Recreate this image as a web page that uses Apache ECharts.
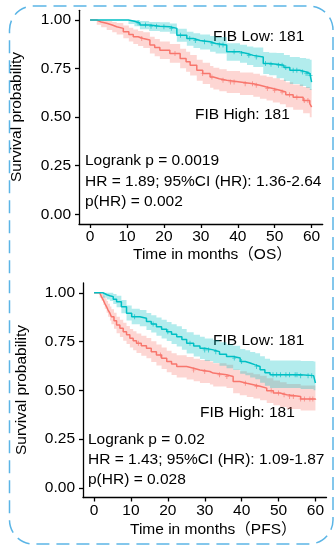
<!DOCTYPE html>
<html>
<head>
<meta charset="utf-8">
<script src="https://cdn.jsdelivr.net/npm/echarts@6/dist/echarts.min.js"></script>
<style>
  html, body { margin: 0; padding: 0; background: #fff; }
  #chart { width: 334px; height: 547px; }
</style>
</head>
<body>
<div id="chart"></div>
<script>
// ---- OS (top panel) ----
const osLowTime = [0, 10.4, 12, 13.5, 16, 18.9, 21.6, 23.5, 26.2, 28, 29.8, 32.5, 34, 37, 40.6, 42.5, 44.2, 46.9, 48.5, 50.5, 52.5, 54.1, 56.8, 58.5, 59.5, 60];
const osLowSurv = [1, .994, .985, .974, .968, .965, .957, .922, .905, .895, .888, .879, .871, .836, .828, .818, .81, .776, .772, .767, .755, .741, .733, .725, .715, .68];
const osLowLower = [1, .98, .968, .952, .944, .94, .929, .888, .868, .856, .848, .837, .828, .79, .78, .768, .758, .722, .716, .70, .686, .67, .66, .65, .64, .59];
const osLowUpper = [1, 1, 1, .995, .99, .988, .982, .955, .94, .932, .926, .918, .912, .88, .873, .864, .858, .835, .832, .83, .82, .81, .805, .80, .795, .77];
const osLowCensor = [13, 15, 16.5, 18, 20, 22, 24.5, 27, 28.5, 31, 33, 35, 36, 39, 41, 43, 45, 47.5, 49, 51, 52, 53, 55, 56, 57.5, 58.5, 59, 59.7];

const osHighTime = [0, 1.8, 3, 4.5, 6, 7.2, 9, 10.5, 11.7, 13, 14.4, 16.2, 17.5, 18.9, 21.6, 24.4, 26, 27.1, 28.9, 30.5, 32.5, 33.4, 35, 37, 40.6, 44.2, 46, 47.8, 49.5, 51.4, 53, 55, 57.7, 59.5, 60];
const osHighSurv = [1, .99, .983, .974, .965, .957, .94, .925, .914, .905, .897, .871, .858, .845, .828, .802, .785, .767, .741, .725, .707, .698, .69, .681, .672, .664, .655, .647, .638, .629, .615, .603, .586, .57, .552];
const osHighLower = [1, .975, .963, .949, .937, .926, .906, .889, .876, .866, .856, .828, .813, .799, .78, .752, .734, .715, .687, .67, .651, .642, .633, .624, .614, .605, .595, .586, .576, .566, .551, .538, .52, .5, .475];
const osHighUpper = [1, 1, 1, .995, .99, .985, .972, .96, .951, .943, .937, .914, .902, .89, .876, .852, .836, .82, .795, .78, .763, .754, .747, .738, .73, .723, .715, .708, .7, .692, .68, .668, .655, .645, .63];
const osHighCensor = [14, 23, 30.5, 33, 36, 38, 39, 42, 44, 45, 48, 50, 52, 54, 56, 58, 59];

// ---- PFS (bottom panel) ----
const pfsLowTime = [0, 2.4, 3.5, 4.3, 5.2, 6.1, 7.4, 8.8, 10.2, 12.4, 14.2, 15.5, 16.9, 18.3, 19.7, 21, 22.4, 23.8, 25.1, 27, 28.7, 30, 32.3, 34, 35.9, 37.7, 39.6, 41, 42.3, 43.7, 45, 46.3, 47.7, 51, 56, 59.5, 60];
const pfsLowSurv = [1, .99, .985, .98, .967, .954, .928, .895, .877, .869, .852, .84, .826, .813, .80, .787, .775, .76, .741, .727, .716, .707, .698, .685, .673, .665, .647, .64, .63, .622, .605, .59, .579, .579, .575, .571, .537];
const pfsLowLower = [1, .975, .966, .958, .942, .926, .895, .858, .838, .828, .809, .796, .78, .766, .752, .737, .724, .708, .688, .673, .66, .65, .64, .626, .613, .604, .585, .577, .566, .557, .539, .523, .511, .511, .506, .5, .46];
const pfsLowUpper = [1, 1, 1, 1, .993, .985, .963, .934, .918, .911, .896, .885, .873, .861, .85, .838, .828, .814, .797, .784, .774, .766, .758, .746, .735, .728, .711, .705, .696, .69, .675, .661, .652, .652, .65, .647, .62];
const pfsLowCensor = [11, 16, 20, 26, 30, 31, 33, 38, 40, 44, 48.5, 49.5, 50.5, 52, 53, 54.5, 55, 56, 58, 59];

const pfsHighTime = [0, 1.5, 2, 2.5, 2.9, 3.4, 3.8, 4.3, 4.7, 5.4, 6.1, 7, 7.9, 8.8, 9.7, 10.6, 11.5, 12.8, 14.2, 15.5, 16.9, 18.3, 19.7, 21, 22.4, 25.1, 27, 28.7, 31.4, 32.3, 35.9, 37.7, 39.5, 41.4, 43.2, 45, 46.8, 48.6, 50.4, 52.2, 56, 60];
const pfsHighSurv = [1, .99, .98, .962, .946, .928, .911, .895, .877, .856, .835, .818, .80, .784, .767, .754, .741, .728, .716, .698, .681, .664, .647, .634, .622, .613, .604, .596, .588, .579, .571, .545, .536, .528, .52, .511, .498, .486, .477, .468, .455, .451];
const pfsHighLower = [1, .975, .96, .938, .918, .897, .877, .858, .838, .815, .792, .773, .754, .737, .719, .705, .691, .677, .664, .645, .627, .609, .592, .578, .565, .555, .546, .537, .529, .519, .511, .484, .475, .466, .458, .449, .435, .423, .414, .404, .396, .385];
const pfsHighUpper = [1, 1, .997, .985, .972, .958, .944, .93, .915, .897, .877, .862, .846, .83, .814, .803, .791, .779, .768, .751, .735, .719, .703, .69, .679, .671, .662, .655, .647, .639, .631, .606, .597, .59, .582, .574, .562, .55, .541, .532, .525, .517];
const pfsHighCensor = [12, 18, 27, 30, 34, 36, 41, 44, 48, 50, 51.5, 53, 54, 56, 57, 58.5, 59.3];

const xTicks = [0, 10, 20, 30, 40, 50, 60];
const yTicks = [0, 0.25, 0.5, 0.75, 1];

const FONT = '"Liberation Sans", Arial, "Noto Sans CJK SC", sans-serif';
const LOW = "#00BFC4";
const HIGH = "#F8766D";
const LOW_FILL = "rgba(0,191,196,0.3)";
const HIGH_FILL = "rgba(248,118,109,0.3)";
// small "+" censoring mark, tall and thin
const PLUS = "path://M2,0H3V2.2H5V2.8H3V5H2V2.8H0V2.2H2Z";

function survAt(t, s, x) {
  let v = s[0];
  for (let i = 0; i < t.length; i++) if (t[i] <= x) v = s[i];
  return v;
}

// step outline of one confidence limit, in data units
function steps(t, v) {
  const pts = [];
  for (let i = 0; i < t.length; i++) {
    pts.push([t[i], v[i]]);
    if (i < t.length - 1) pts.push([t[i + 1], v[i]]);
  }
  return pts;
}

// confidence band as a stepped polygon
function band(gi, t, lo, hi, fill) {
  const outline = steps(t, hi).concat(steps(t, lo).reverse());
  return {
    type: "custom", xAxisIndex: gi, yAxisIndex: gi, silent: true,
    data: [0],
    renderItem: (params, api) => ({
      type: "polygon",
      shape: { points: outline.map((p) => api.coord(p)) },
      style: { fill },
    }),
  };
}

function curve(gi, t, s, cens, color) {
  return [
    {
      type: "line", xAxisIndex: gi, yAxisIndex: gi, step: "end", symbol: "none", silent: true,
      lineStyle: { color, width: 1.5 }, data: t.map((x, i) => [x, s[i]]),
    },
    {
      type: "scatter", xAxisIndex: gi, yAxisIndex: gi, symbol: PLUS, symbolSize: [4, 5], silent: true,
      itemStyle: { color }, data: cens.map((x) => [x, survAt(t, s, x)]),
    },
  ];
}

function xAxis(gi) {
  return {
    gridIndex: gi, type: "value", min: -3, max: 63,
    splitLine: { show: false },
    axisLine: { show: true, onZero: false, lineStyle: { color: "#000", width: 1.3 } },
    axisTick: { show: true, length: 4, customValues: xTicks, lineStyle: { color: "#000", width: 1.3 } },
    axisLabel: { customValues: xTicks, color: "#000", fontSize: 15.5, fontFamily: FONT, margin: 5 },
  };
}

function yAxis(gi) {
  return {
    gridIndex: gi, type: "value", min: -0.05, max: 1.05,
    splitLine: { show: false },
    axisLine: { show: true, onZero: false, lineStyle: { color: "#000", width: 1.3 } },
    axisTick: { show: true, length: 4, customValues: yTicks, lineStyle: { color: "#000", width: 1.3 } },
    axisLabel: {
      customValues: yTicks, color: "#000", fontSize: 15.5, fontFamily: FONT, margin: 8,
      formatter: (v) => v.toFixed(2),
    },
  };
}

function txt(x, y, text, extra) {
  return {
    type: "text", x, y, silent: true,
    style: { text, fill: "#000", fontSize: 15.5, fontFamily: FONT, verticalAlign: "middle", ...(extra || {}) },
  };
}

const chart = echarts.init(document.getElementById("chart"));
chart.setOption({
  animation: false,
  backgroundColor: "#fff",
  grid: [
    { left: 79, top: 10.3, width: 243.7, height: 213.7 },
    { left: 83, top: 283, width: 243.5, height: 214.5 },
  ],
  xAxis: [xAxis(0), xAxis(1)],
  yAxis: [yAxis(0), yAxis(1)],
  series: [
    band(0, osHighTime, osHighLower, osHighUpper, HIGH_FILL),
    band(0, osLowTime, osLowLower, osLowUpper, LOW_FILL),
    band(1, pfsHighTime, pfsHighLower, pfsHighUpper, HIGH_FILL),
    band(1, pfsLowTime, pfsLowLower, pfsLowUpper, LOW_FILL),
    ...curve(0, osHighTime, osHighSurv, osHighCensor, HIGH),
    ...curve(0, osLowTime, osLowSurv, osLowCensor, LOW),
    ...curve(1, pfsHighTime, pfsHighSurv, pfsHighCensor, HIGH),
    ...curve(1, pfsLowTime, pfsLowSurv, pfsLowCensor, LOW),
  ],
  graphic: [
    {
      type: "rect", silent: true, z: 100,
      shape: { x: 9.5, y: 6, width: 323.5, height: 538, r: 24 },
      style: { fill: "none", stroke: "#5bb5e6", lineWidth: 1.5, lineDash: [13, 7] },
    },
    // top panel
    txt(213, 36.5, "FIB Low: 181"),
    txt(195, 114.5, "FIB High: 181"),
    txt(85, 161, "Logrank p = 0.0019"),
    txt(85, 181.5, "HR = 1.89; 95%CI (HR): 1.36-2.64"),
    txt(85, 201.5, "p(HR) = 0.002"),
    txt(133, 255, "Time in months（OS）"),
    { ...txt(17, 117, "Survival probability", { align: "center" }), rotation: Math.PI / 2 },
    // bottom panel
    txt(213, 341, "FIB Low: 181"),
    txt(200, 412.5, "FIB High: 181"),
    txt(88, 439.5, "Logrank p = 0.02"),
    txt(88, 459.5, "HR = 1.43; 95%CI (HR): 1.09-1.87"),
    txt(88, 480, "p(HR) = 0.028"),
    txt(130, 530, "Time in months（PFS）"),
    { ...txt(22, 390, "Survival probability", { align: "center" }), rotation: Math.PI / 2 },
  ],
});
</script>
</body>
</html>
